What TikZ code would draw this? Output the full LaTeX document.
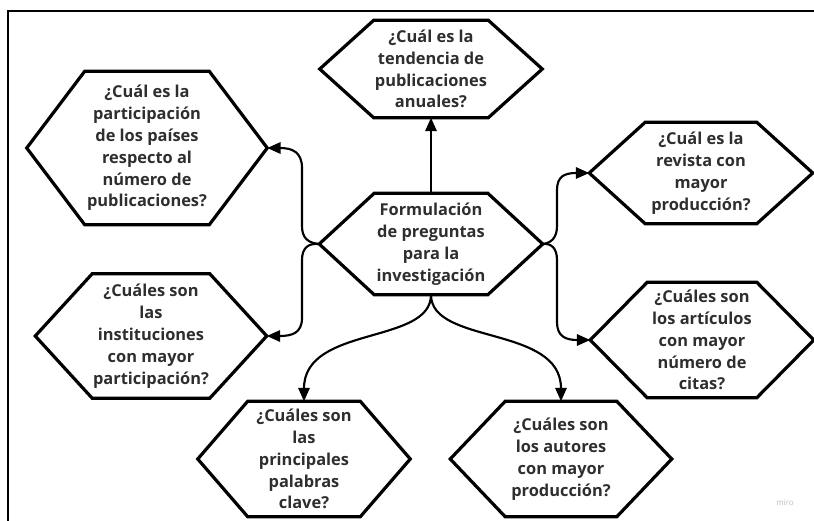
\documentclass[tikz,border=0pt]{standalone}
\usepackage{fontspec}
\usetikzlibrary{arrows.meta}
\newfontfamily\qfont{Open Sans}

% hexagon: name, centre, width, height, inset (px), text
\newcommand{\hexq}[6]{%
	\node [qtext, minimum width=#3*0.75pt, minimum height=#4*0.75pt] (#1) at (#2) {#6};
	\draw [hexline] (#1.west) -- ([xshift=#5*0.75pt]#1.north west) -- ([xshift=-#5*0.75pt]#1.north east) -- (#1.east) -- ([xshift=-#5*0.75pt]#1.south east) -- ([xshift=#5*0.75pt]#1.south west) -- cycle ;
}

\begin{document}
\begin{tikzpicture}[x=0.75pt,y=0.75pt,yscale=-1,
	qtext/.style={inner sep=0pt, align=center, text=black!82, font=\qfont\bfseries\fontsize{12.3}{16.4}\selectfont},
	hexline/.style={line width=2.4pt, line join=miter},
	arr/.style={line width=1.6pt, -{Triangle[length=10pt,width=8.5pt]}}]
	\useasboundingbox (0,0) rectangle (814,521);

	%Frame
	\draw [line width=1.3pt]  (8,521) -- (8,11) -- (814,11) ;

	%Shape: Hexagon
	\hexq{form}{431,244}{223}{101}{55}{Formulación\\de preguntas\\para la\\investigación}
	%Shape: Hexagon
	\hexq{tend}{431,69}{222}{97}{54}{¿Cuál es la\\tendencia de\\publicaciones\\anuales?}
	%Shape: Hexagon
	\hexq{pais}{147,148}{240}{153}{58}{¿Cuál es la\\participación\\de los países\\respecto al\\número de\\publicaciones?}
	%Shape: Hexagon
	\hexq{inst}{151,336}{231}{124}{57}{¿Cuáles son\\las\\instituciones\\con mayor\\participación?}
	%Shape: Hexagon
	\hexq{rev}{701,173}{223}{101}{56}{¿Cuál es la\\revista con\\mayor\\producción?}
	%Shape: Hexagon
	\hexq{art}{702,340}{223}{115}{57}{¿Cuáles son\\los artículos\\con mayor\\número de\\citas?}
	%Shape: Hexagon
	\hexq{pal}{304,459}{212}{115}{50}{¿Cuáles son\\las\\principales\\palabras\\clave?}
	%Shape: Hexagon
	\hexq{aut}{561,459}{221}{115}{55}{¿Cuáles son\\los autores\\con mayor\\producción?}

	%Straight Lines
	\draw [arr]  (form.north) -- (tend.south) ;
	%Curve Lines
	\draw [arr]  (form.west) .. controls (308,243) and (302,238) .. (302,226) -- (302,168) .. controls (302,152) and (292,148) .. (pais.east) ;
	%Curve Lines
	\draw [arr]  (form.west) .. controls (308,243) and (302,248) .. (302,260) -- (302,318) .. controls (302,333) and (292,336) .. (inst.east) ;
	%Curve Lines
	\draw [arr]  (form.east) .. controls (551,243) and (557,238) .. (557,226) -- (557,190) .. controls (557,176) and (565,173) .. (rev.west) ;
	%Curve Lines
	\draw [arr]  (form.east) .. controls (551,243) and (557,248) .. (557,260) -- (557,322) .. controls (557,336) and (565,340) .. (art.west) ;
	%Curve Lines
	\draw [arr]  (form.south) .. controls (431,345) and (304,325) .. (pal.north) ;
	%Curve Lines
	\draw [arr]  (form.south) .. controls (431,345) and (561,325) .. (aut.north) ;

	% Text Node
	\node [text=black!25, font=\qfont\fontsize{6}{7}\selectfont] (miro) at (785,503) {miro};
\end{tikzpicture}
\end{document}
